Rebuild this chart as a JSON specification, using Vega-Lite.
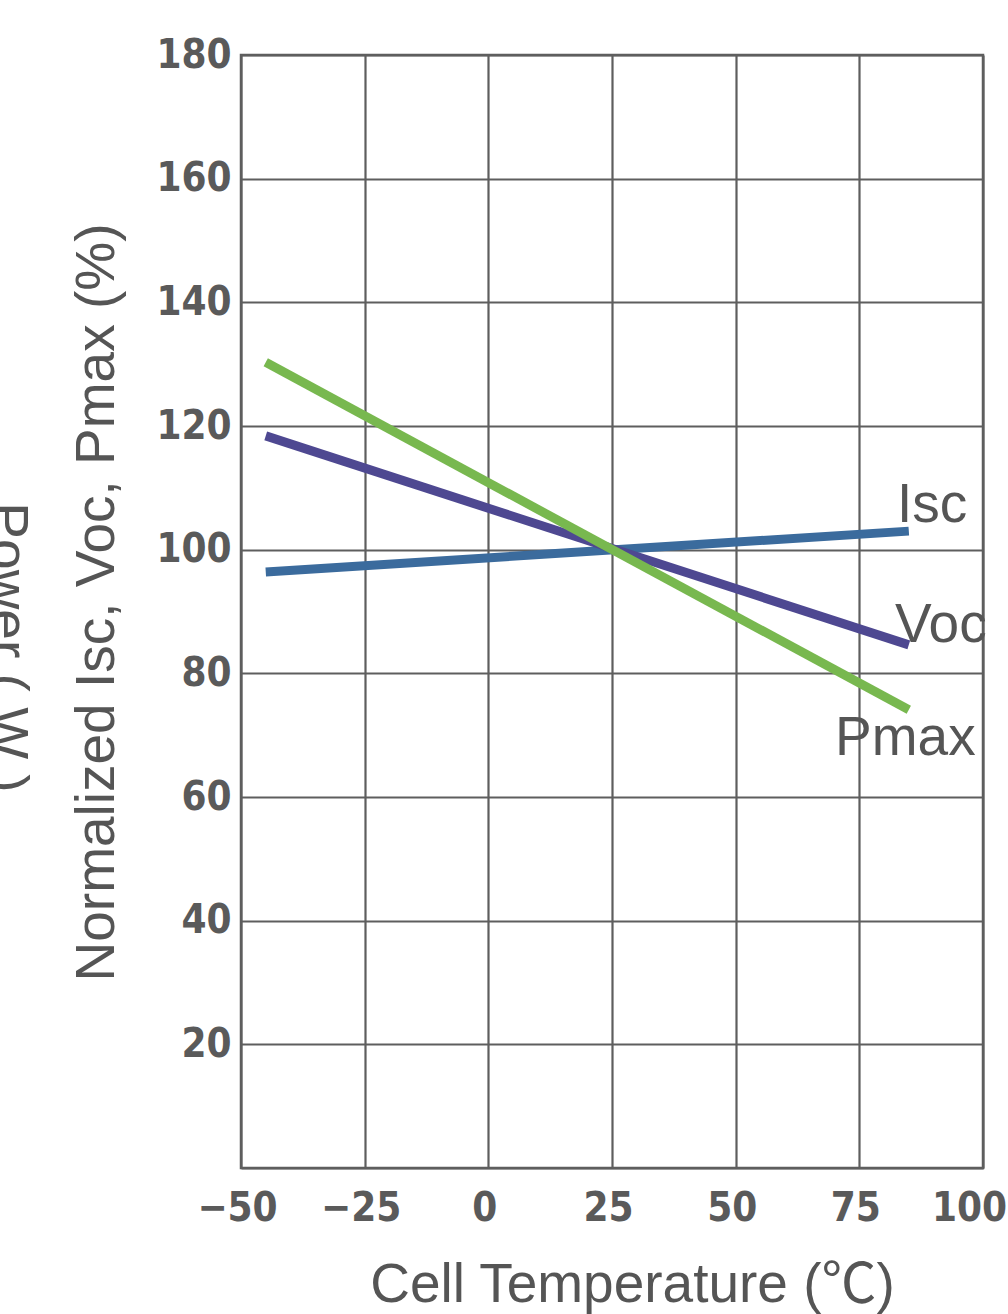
{
  "$schema": "https://vega.github.io/schema/vega-lite/v6.json",
  "width": 742,
  "height": 1113,
  "autosize": {"type": "none"},
  "padding": {"left": 241, "top": 55, "right": 25, "bottom": 146},
  "background": "white",
  "config": {
    "view": {"stroke": "#5e5e5e", "strokeWidth": 2.5},
    "axis": {
      "gridColor": "#5e5e5e",
      "gridWidth": 2.2,
      "gridOpacity": 1,
      "ticks": false,
      "domain": false,
      "labelFont": "DejaVu Sans Condensed",
      "labelFontWeight": "bold",
      "labelFontSize": 40,
      "labelColor": "#5a5a5a",
      "titleFont": "Liberation Sans, Noto Sans CJK SC",
      "titleFontWeight": "normal",
      "titleFontSize": 55,
      "titleColor": "#555555"
    }
  },
  "datasets": {
    "lines": [
      {"series": "Isc", "t": -45, "v": 96.4},
      {"series": "Isc", "t": 85, "v": 103.0},
      {"series": "Voc", "t": -45, "v": 118.4},
      {"series": "Voc", "t": 85, "v": 84.6},
      {"series": "Pmax", "t": -45, "v": 130.3},
      {"series": "Pmax", "t": 85, "v": 74.1}
    ],
    "labels": [
      {"label": "Isc", "t": 82.6, "v": 104.5},
      {"label": "Voc", "t": 82.2, "v": 85.1},
      {"label": "Pmax", "t": 70.1, "v": 66.8}
    ]
  },
  "layer": [
    {
      "data": {"name": "lines"},
      "mark": {"type": "line", "strokeWidth": 9, "strokeCap": "butt"},
      "encoding": {
        "x": {
          "field": "t", "type": "quantitative",
          "scale": {"domain": [-50, 100], "nice": false, "zero": false},
          "axis": {
            "values": [-50, -25, 0, 25, 50, 75, 100],
            "labelExpr": "replace(datum.label, '-', '\u2212')",
            "labelFlush": false,
            "labelOverlap": false,
            "labelBound": false,
            "labelOffset": {"condition": {"test": "datum.value == 100", "value": -14}, "value": -4},
            "labelPadding": 20,
            "title": "Cell Temperature (\u2103)",
            "titleX": 391,
            "titleY": 133,
            "titleBaseline": "alphabetic"
          }
        },
        "y": {
          "field": "v", "type": "quantitative",
          "scale": {"domain": [0, 180], "nice": false},
          "axis": {
            "values": [0, 20, 40, 60, 80, 100, 120, 140, 160, 180],
            "labelExpr": "datum.value == 0 ? '' : datum.label",
            "labelPadding": 10,
            "title": "Normalized Isc, Voc, Pmax (%)",
            "titleAngle": -90,
            "titleX": -128,
            "titleY": 547,
            "titleBaseline": "alphabetic"
          }
        },
        "color": {
          "field": "series", "type": "nominal",
          "scale": {"domain": ["Isc", "Voc", "Pmax"], "range": ["#3b6b9d", "#4e4891", "#78b84f"]},
          "legend": null
        }
      }
    },
    {
      "data": {"name": "labels"},
      "mark": {"type": "text", "align": "left", "baseline": "alphabetic", "font": "Liberation Sans", "fontSize": 55, "color": "#555555"},
      "encoding": {
        "x": {"field": "t", "type": "quantitative", "scale": {"domain": [-50, 100], "nice": false, "zero": false}},
        "y": {
          "field": "v", "type": "quantitative",
          "scale": {"domain": [0, 180], "nice": false},
          "axis": {
            "orient": "left",
            "title": "Power ( W )",
            "labels": false,
            "grid": false,
            "ticks": false,
            "domain": false,
            "titleAngle": 90,
            "titleX": -252,
            "titleY": 592,
            "titleBaseline": "alphabetic"
          }
        },
        "text": {"field": "label", "type": "nominal"}
      }
    }
  ],
  "resolve": {"scale": {"y": "independent", "x": "shared"}}
}
